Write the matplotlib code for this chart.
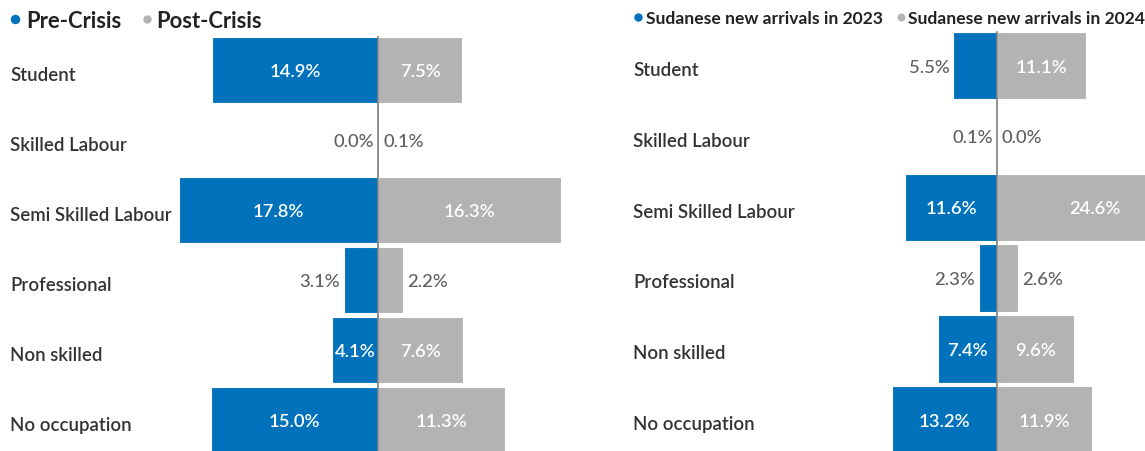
import matplotlib
matplotlib.use("Agg")
import matplotlib.pyplot as plt
from matplotlib.lines import Line2D
from matplotlib.transforms import offset_copy

plt.rcParams['font.family'] = ['Lato', 'DejaVu Sans']

categories = ["Student", "Skilled Labour", "Semi Skilled Labour", "Professional",
              "Non skilled", "No occupation"]
pre_crisis = [14.9, 0.0, 17.8, 3.1, 4.1, 15.0]
post_crisis = [7.5, 0.1, 16.3, 2.2, 7.6, 11.3]
arrivals_2023 = [5.5, 0.1, 11.6, 2.3, 7.4, 13.2]
arrivals_2024 = [11.1, 0.0, 24.6, 2.6, 9.6, 11.9]

left_legend = ["Pre-Crisis", "Post-Crisis"]
right_legend = ["Sudanese new arrivals in 2023", "Sudanese new arrivals in 2024"]

BLUE = "#0072BC"
GREY = "#B3B3B3"
TXT_OUT = "#5f5f5f"
TXT_CAT = "#333333"
W, H = 1145, 452
fig = plt.figure(figsize=(W / 100, H / 100), dpi=100)

VAL_FS = 13.3
CAT_FS = 13.4


def make_panel(x0, x1, cx, pxper, c0, step, barh, neg, pos, cat_x):
    ax = fig.add_axes([x0 / W, 0, (x1 - x0) / W, 1])
    ax.set_xlim((x0 - cx) / pxper, (x1 - cx) / pxper)
    ax.set_ylim((H - c0) / step, -c0 / step)
    ax.axis("off")
    ys = list(range(len(categories)))
    ax.barh(ys, [-v for v in neg], height=barh, color=BLUE, edgecolor="white",
            linewidth=[0.8 if v * pxper > 3 else 0 for v in neg])
    ax.barh(ys, pos, height=barh, color=GREY, edgecolor="white",
            linewidth=[0.8 if v * pxper > 3 else 0 for v in pos])
    ax.axvline(0, ymin=0, ymax=1 - (c0 - barh * step / 2) / H, color="#7f7f7f", linewidth=1.2)
    pad = 4 / pxper
    vtr = offset_copy(ax.transData, fig=fig, x=0, y=-6, units="dots")
    for i, (n, p) in enumerate(zip(neg, pos)):
        if n * pxper > 45:
            ax.text(-n / 2, i, f"{n:.1f}%", ha="center", va="baseline", color="white",
                    fontsize=VAL_FS, fontweight="semibold", transform=vtr)
        else:
            ax.text(-n - pad, i, f"{n:.1f}%", ha="right", va="baseline", color=TXT_OUT,
                    fontsize=VAL_FS, fontweight="medium", transform=vtr)
        if p * pxper > 45:
            ax.text(p / 2, i, f"{p:.1f}%", ha="center", va="baseline", color="white",
                    fontsize=VAL_FS, fontweight="semibold", transform=vtr)
        else:
            ax.text(p + pad, i, f"{p:.1f}%", ha="left", va="baseline", color=TXT_OUT,
                    fontsize=VAL_FS, fontweight="medium", transform=vtr)
        fig.text(cat_x / W, 1 - (c0 + step * i + 9.3) / H, categories[i], ha="left",
                 va="baseline", color=TXT_CAT, fontsize=CAT_FS, fontweight="semibold")


def legend(items, dots, texts, base_y, dot_y, dot_d, fs):
    for lab, col, dx, tx, d in zip(items, [BLUE, GREY], dots, texts, dot_d):
        fig.add_artist(Line2D([dx / W], [1 - dot_y / H], transform=fig.transFigure,
                              marker="o", markersize=d * 0.72, color=col, linestyle="none"))
        fig.text(tx / W, 1 - base_y / H, lab, ha="left", va="baseline",
                 color="#222222", fontsize=fs, fontweight="bold")


make_panel(170, 600, 378.3, 11.18, 71.3, 70.0, 0.94, pre_crisis, post_crisis, 10)
make_panel(880, 1145, 997.3, 7.97, 66.7, 70.8, 0.95, arrivals_2023, arrivals_2024, 633)
legend(left_legend, [15, 147], [26, 156], 28, 20, [8, 7], 15.8)
legend(right_legend, [637.5, 901], [646, 908], 24, 17.5, [7, 6.5], 12.6)

fig.savefig("out.png", dpi=100)
